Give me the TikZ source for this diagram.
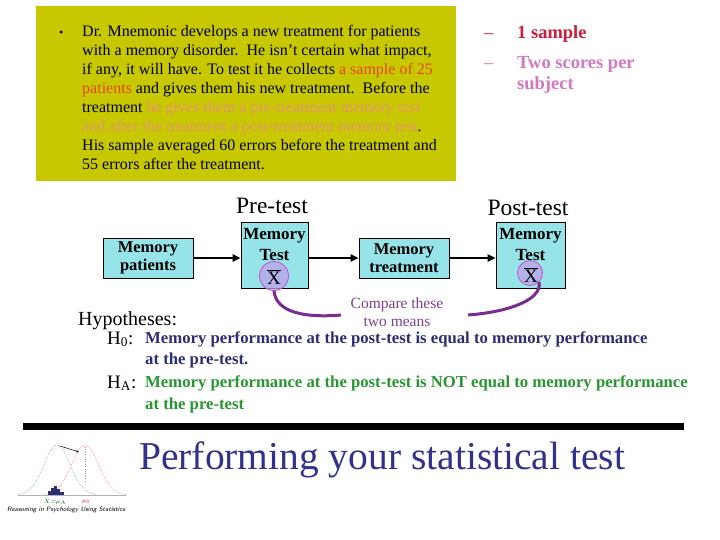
\documentclass[tikz,border=0pt]{standalone}
\usepackage{fontspec}
\setmainfont{Liberation Serif}
\usetikzlibrary{arrows.meta}
\newcommand\fsz[1]{\fontsize{#1}{#1}\selectfont}
\definecolor{boxyel}{RGB}{200,200,0}
\definecolor{orng}{RGB}{230,70,10}
\definecolor{salm}{RGB}{228,150,115}
\definecolor{crim}{RGB}{200,30,60}
\definecolor{pinkp}{RGB}{210,120,190}
\definecolor{navyh}{RGB}{45,45,115}
\definecolor{greenh}{RGB}{40,150,50}
\definecolor{titlec}{RGB}{50,50,140}
\definecolor{boxcyan}{RGB}{150,228,232}
\definecolor{cmpc}{RGB}{125,65,145}
\definecolor{curvec}{RGB}{120,45,145}
\definecolor{circf}{RGB}{190,160,235}
\definecolor{circd}{RGB}{200,80,200}
\tikzset{
  mline/.style={anchor=base west, inner sep=0pt, font=\fsz{16}},
  tbox/.style={draw=black, line width=0.6pt, fill=boxcyan, inner sep=0pt},
  boxtxt/.style={align=center, inner sep=0pt, font=\fsz{17}\bfseries},
  flow/.style={-{Triangle[length=8pt,width=7pt]}, line width=2.2pt},
  circ/.style={circle, draw=circd, line width=0.8pt, fill=circf, fill opacity=0.75, text opacity=1, inner sep=0pt},
  conn/.style={draw=curvec, line width=3pt},
  hyp/.style={anchor=base west, inner sep=0pt, font=\fsz{16.7}\bfseries},
}
\begin{document}
\begin{tikzpicture}[x=1pt,y=-1pt]
\fill[white] (0,0) rectangle (720,540);
\useasboundingbox (0,0) rectangle (720,540);
% top box
\fill[boxyel] (36,6) rectangle (456,181);
\node[mline, font=\fsz{12}] (bul) at (59,37) {•};
\node[mline] (l1) at (82,37) {Dr. Mnemonic develops a new treatment for patients};
\node[mline] (l2) at (82,56) {with a memory disorder.\ \ He isn't certain what impact,};
\node[mline] (l3) at (82,75) {if any, it will have. To test it he collects \textcolor{orng}{a sample of 25}};
\node[mline] (l4) at (82,94) {\textcolor{orng}{patients} and gives them his new treatment.\ \ Before the};
\node[mline] (l5) at (82,113) {treatment \textcolor{salm}{he gives them a pre-treatment memory test}};
\node[mline] (l6) at (82,132) {\textcolor{salm}{and after the treatment a post-treatment memory test}.};
\node[mline] (l7) at (82,151) {His sample averaged 60 errors before the treatment and};
\node[mline] (l8) at (82,170) {55 errors after the treatment.};
% right list
\node[anchor=base west, inner sep=0pt, font=\fsz{18.5}, crim] (d1) at (484,39) {–};
\node[anchor=base west, inner sep=0pt, font=\fsz{18.5}\bfseries, crim] (r1) at (517,39) {1 sample};
\node[anchor=base west, inner sep=0pt, font=\fsz{18.5}, pinkp] (d2) at (484,69) {–};
\node[anchor=base west, inner sep=0pt, font=\fsz{18.5}\bfseries, pinkp] (r2) at (517,69) {Two scores per};
\node[anchor=base west, inner sep=0pt, font=\fsz{18.5}\bfseries, pinkp] (r3) at (517,90) {subject};
% headings
\node[anchor=base, inner sep=0pt, font=\fsz{23.5}] (pret) at (272,214) {Pre-test};
\node[anchor=base, inner sep=0pt, font=\fsz{23.5}] (postt) at (528,215) {Post-test};
% boxes
\node[tbox, minimum width=90pt, minimum height=40pt] (pat) at (148,258) {};
\node[boxtxt, font=\fsz{16.5}\bfseries] (pattxt) at (pat.center) {Memory\\[2pt]patients};
\node[tbox, minimum width=67pt, minimum height=66pt] (pre) at (274.5,255) {};
\node[boxtxt, anchor=north] (pretxt) at ([yshift=-6pt]pre.north) {Memory\\[4pt]Test};
\node[tbox, minimum width=90pt, minimum height=40pt] (trt) at (404,258) {};
\node[boxtxt, font=\fsz{16.5}\bfseries] (trttxt) at (trt.center) {Memory\\[2pt]treatment};
\node[tbox, minimum width=69pt, minimum height=66pt] (post) at (530.5,255) {};
\node[boxtxt, anchor=north] (posttxt) at ([yshift=-6pt]post.north) {Memory\\[4pt]Test};
% arrows
\draw[flow] (pat.east) -- (pat.east -| pre.west);
\draw[flow] (pre.east |- trt.west) -- (trt.west);
\draw[flow] (trt.east) -- (trt.east -| post.west);
% circles
\node[circ, minimum size=29pt] (cpre) at (274,276) {};
\node[inner sep=0pt, font=\fsz{19}] (xpre) at (274,277) {$\overline{\hbox{X}}$};
\node[circ, minimum size=25pt] (cpost) at (530,273) {};
\node[inner sep=0pt, font=\fsz{19}] (xpost) at (531,275) {$\overline{\hbox{X}}$};
% compare
\node[align=center, inner sep=0pt, font=\fsz{15.5}, text=cmpc] (cmp) at (397,312) {Compare these\\[2pt]two means};
\coordinate (cl) at (341,315);
\coordinate (cr) at (468,315);
\draw[conn] (cpre.south) .. controls +(2,22) and +(-35,3) .. (cl);
\draw[conn] (cr) .. controls +(40,-3) and +(3,18) .. (cpost.south east);
% hypotheses
\node[anchor=base west, inner sep=0pt, font=\fsz{20}] (hyp) at (78,325) {Hypotheses:};
\node[anchor=base west, inner sep=0pt, font=\fsz{19}] (h0) at (107,344) {H\textsubscript{0}:};
\node[hyp, navyh] (h0a) at (145,343) {Memory performance at the post-test is equal to memory performance};
\node[hyp, navyh] (h0b) at (145,364) {at the pre-test.};
\node[anchor=base west, inner sep=0pt, font=\fsz{19}] (ha) at (107,388) {H\textsubscript{A}:};
\node[hyp, greenh] (haa) at (145,387) {Memory performance at the post-test is NOT equal to memory performance};
\node[hyp, greenh] (hab) at (145,409) {at the pre-test};
% bar and title
\fill[black] (23,423) rectangle (684,430);
\node[anchor=base west, inner sep=0pt, font=\fsz{39.5}, text=titlec] (title) at (139,469) {Performing your statistical test};
% logo
\draw[gray!60, line width=0.5pt] (18,495) -- (126,495);
\draw[green!55!black!70, line width=0.5pt, densely dotted] plot[domain=18:96, samples=60] (\x, {495-50*exp(-((\x-57)/13)^2/2)});
\draw[red!70, line width=0.5pt, densely dotted] plot[domain=45:126, samples=60] (\x, {495-50*exp(-((\x-85)/13.5)^2/2)});
\draw[gray!80, line width=0.4pt, dotted] (85,447) -- (85,483);
\draw[-{Stealth[length=3pt]}, line width=0.5pt] (60,446) -- (79,452);
\fill[navyh] (48,491) rectangle (51,495);
\fill[navyh] (51,488) rectangle (54,495);
\fill[navyh] (54,486) rectangle (57,495);
\fill[navyh] (57,489) rectangle (60,495);
\fill[navyh] (60,492) rectangle (64,495);
\node[inner sep=0pt, font=\fsz{6}, text=green!40!black] (lx) at (55,502) {$X{=}\mu_A$};
\node[inner sep=0pt, font=\fsz{6}, text=red!80!black] (lm) at (86,502) {$\mu_0$};
\node[anchor=west, inner sep=0pt, font=\fsz{6.5}\sffamily\itshape] (logo) at (7,510) {Reasoning in Psychology Using Statistics};
\end{tikzpicture}
\end{document}
